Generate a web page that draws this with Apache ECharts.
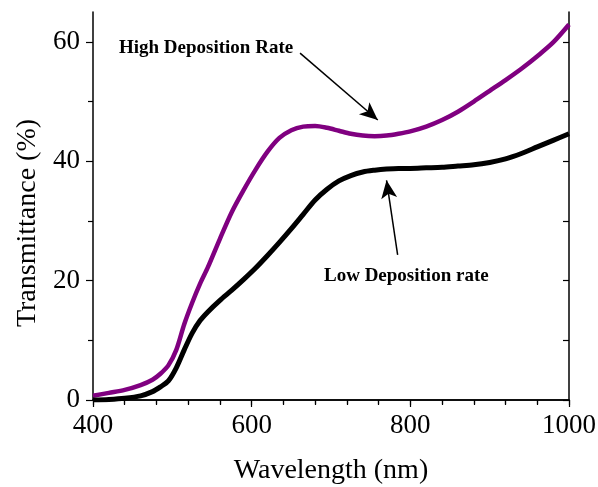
<!DOCTYPE html>
<html lang="en">

<head>
    <meta charset="UTF-8">
    <title>Transmittance</title>
    <script src="https://cdn.jsdelivr.net/npm/echarts@6/dist/echarts.min.js"></script>
    <style>
        body { margin: 0; background: #fff; }
    </style>
</head>

<body>
    <div id="main" style="width: 598px;height:487px;"></div>
    <script type="text/javascript">
        // wavelength (nm)
        var wavelength = [400, 420, 440, 460, 475, 485, 495, 505, 515, 525, 535, 545, 560, 575, 590, 605, 620, 635, 650, 665,
            680, 695, 710, 725, 740, 755, 770, 785, 800, 820, 840, 860, 880, 900, 920, 940, 960, 980, 1000];
        // transmittance (%)
        var highRate = [0.7, 1.2, 1.7, 2.5, 3.4, 4.4, 5.8, 8.4, 12.7, 16.3, 19.5, 22.3, 27.0, 31.5, 35.2, 38.6, 41.6, 43.9, 45.2, 45.8,
            45.9, 45.6, 45.1, 44.6, 44.3, 44.2, 44.3, 44.6, 45.0, 45.8, 46.9, 48.3, 50.0, 51.8, 53.6, 55.5, 57.6, 59.9, 62.9];
        var lowRate = [0.0, 0.1, 0.3, 0.7, 1.4, 2.2, 3.2, 5.4, 8.4, 11.2, 13.3, 14.8, 16.7, 18.4, 20.2, 22.1, 24.2, 26.4, 28.7, 31.1,
            33.5, 35.3, 36.7, 37.6, 38.2, 38.5, 38.7, 38.8, 38.8, 38.9, 39.0, 39.2, 39.4, 39.8, 40.4, 41.3, 42.4, 43.5, 44.6];
        var yTicks = [0, 20, 40, 60];
        var yMinor = [10, 30, 50];

        // arrows: [from, to] in data coords
        var highArrow = [[661, 58.1], [759, 46.9]];
        var lowArrow = [[784, 24.3], [770, 36.8]];

        var font = 'Liberation Serif';

        function pairs(xs, ys) {
            return xs.map(function (x, i) { return [x, ys[i]]; });
        }

        function arrowLine(a) {
            return [
                { coord: a[0], symbol: 'none' },
                { coord: a[1], symbol: 'arrow', symbolSize: [12, 18] }
            ];
        }

        var myChart = echarts.init(document.getElementById('main'));

        var option = {
            animation: false,
            grid: { left: 93, right: 29, top: 12, bottom: 87, outerBoundsMode: 'none' },
            xAxis: [{
                type: 'value', min: 400, max: 1000, interval: 200,
                name: 'Wavelength (nm)', nameLocation: 'middle', nameGap: 57,
                nameTextStyle: { fontFamily: font, fontSize: 28, color: '#000' },
                axisLine: { lineStyle: { color: '#000', width: 1.5 } },
                axisTick: { length: 7, lineStyle: { color: '#000', width: 1.2 } },
                minorTick: { show: true, splitNumber: 5, length: 4, lineStyle: { color: '#000', width: 1.2 } },
                axisLabel: { fontFamily: font, fontSize: 27, color: '#000', margin: 12, formatter: function (v) { return String(v); } },
                splitLine: { show: false }
            }, {
                type: 'value', min: 400, max: 1000, interval: 200, position: 'top',
                axisLine: { lineStyle: { color: '#000', width: 1.5 } },
                axisTick: { inside: true, length: 5, lineStyle: { color: '#000', width: 1.2 } },
                minorTick: { show: true, splitNumber: 5, length: 5, lineStyle: { color: '#000', width: 1.2 } },
                axisLabel: { show: false },
                splitLine: { show: false }
            }],
            yAxis: [{
                type: 'value', min: 0, max: 65,
                name: 'Transmittance (%)', nameLocation: 'middle', nameGap: 50,
                nameTextStyle: { fontFamily: font, fontSize: 28, color: '#000', padding: [0, 34, 0, 0] },
                axisLine: { lineStyle: { color: '#000', width: 1.5 } },
                axisTick: { length: 7, customValues: yTicks, lineStyle: { color: '#000', width: 1.2 } },
                axisLabel: { fontFamily: font, fontSize: 27, color: '#000', margin: 13, customValues: yTicks },
                splitLine: { show: false }
            }, {
                type: 'value', min: 0, max: 65, position: 'left',
                axisLine: { show: false },
                axisTick: { length: 5, customValues: yMinor, lineStyle: { color: '#000', width: 1.2 } },
                axisLabel: { show: false, customValues: yMinor },
                splitLine: { show: false }
            }, {
                type: 'value', min: 0, max: 65, position: 'right',
                axisLine: { show: true, lineStyle: { color: '#000', width: 1.5 } },
                axisTick: { inside: true, length: 6, customValues: yTicks.concat(yMinor), lineStyle: { color: '#000', width: 1.2 } },
                axisLabel: { show: false, customValues: yTicks.concat(yMinor) },
                splitLine: { show: false }
            }],
            series: [{
                name: 'High Deposition Rate',
                type: 'line',
                data: pairs(wavelength, highRate),
                smooth: 0.3,
                showSymbol: false,
                lineStyle: { color: '#800080', width: 4.5 },
                markLine: {
                    silent: true,
                    label: { show: false },
                    lineStyle: { color: '#000', width: 1.5, type: 'solid' },
                    data: [arrowLine(highArrow), arrowLine(lowArrow)]
                }
            }, {
                name: 'Low Deposition rate',
                type: 'line',
                data: pairs(wavelength, lowRate),
                smooth: 0.3,
                showSymbol: false,
                lineStyle: { color: '#000', width: 5 }
            }],
            graphic: [{
                type: 'text', left: 119, top: 39,
                style: { text: 'High Deposition Rate', font: 'bold 19px "Liberation Serif"', fill: '#000' }
            }, {
                type: 'text', left: 324, top: 267,
                style: { text: 'Low Deposition rate', font: 'bold 19px "Liberation Serif"', fill: '#000' }
            }]
        };

        myChart.setOption(option);
    </script>
</body>

</html>
